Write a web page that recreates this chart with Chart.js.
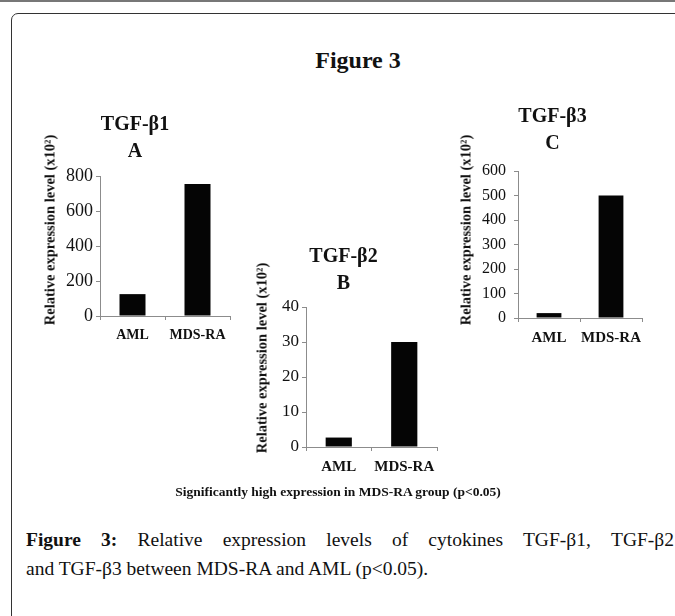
<!DOCTYPE html>
<html>
<head>
<meta charset="utf-8">
<script src="https://cdn.jsdelivr.net/npm/chart.js@4.4.0/dist/chart.umd.min.js"></script>
<style>
  html, body { margin: 0; padding: 0; background: #fff; }
  body { width: 675px; height: 616px; position: relative; overflow: hidden; font-family: "Liberation Serif", serif; color: #111; }
  .topline { position: absolute; left: 0; top: 0; width: 675px; height: 2px; background: #777; }
  .frame { position: absolute; left: 11px; top: 13px; width: 700px; height: 700px; border: 1.5px solid #333; border-radius: 7px; }
  .fig-title { position: absolute; left: 258px; width: 200px; top: 47px; text-align: center; font-weight: bold; font-size: 24px; }
  .chartbox { position: absolute; }
  .ytitle { position: absolute; width: 260px; text-align: center; font-weight: bold; font-size: 14.5px; transform: translate(-50%, -50%) rotate(-90deg); white-space: nowrap; }
  .note { position: absolute; left: 118px; width: 440px; top: 484px; text-align: center; font-weight: bold; font-size: 13.5px; }
  .caption { position: absolute; left: 26px; width: 648px; font-size: 19.5px; }
  .caption b { font-weight: bold; }
  .line1 { top: 529px; text-align: justify; text-align-last: justify; }
  .line2 { top: 558px; }
</style>
</head>
<body>
<div class="topline"></div>
<div class="frame"></div>
<div class="fig-title">Figure 3</div>

<div class="chartbox" style="left:40px; top:111px; width:220px; height:235px;"><canvas id="chartA"></canvas></div>
<div class="chartbox" style="left:250px; top:243px; width:220px; height:234px;"><canvas id="chartB"></canvas></div>
<div class="chartbox" style="left:463px; top:103px; width:200px; height:245px;"><canvas id="chartC"></canvas></div>

<div class="ytitle" style="left:50px; top:230px;">Relative expression level (x10²)</div>
<div class="ytitle" style="left:262px; top:358px;">Relative expression level (x10²)</div>
<div class="ytitle" style="left:466px; top:230px;">Relative expression level (x10²)</div>

<div class="note">Significantly high expression in MDS-RA group (p&lt;0.05)</div>
<div class="caption line1"><b>Figure 3:</b> Relative expression levels of cytokines TGF-β1, TGF-β2</div>
<div class="caption line2">and TGF-β3 between MDS-RA and AML (p&lt;0.05).</div>

<script>
const groups = ['AML', 'MDS-RA'];

const valuesA = [125, 755];
const valuesB = [2.7, 30];
const valuesC = [20, 500];

const titleA = ['TGF-β1', 'A'];
const titleB = ['TGF-β2', 'B'];
const titleC = ['TGF-β3', 'C'];

const axisGray = '#8c8c8c';

function makeChart(id, title, values, yMax, yStep, opts) {
   const ctx = document.getElementById(id).getContext('2d');
   return new Chart(ctx, {
      type: 'bar',
      data: {
         labels: groups,
         datasets: [{
            data: values,
            backgroundColor: '#050505',
            borderWidth: 0,
            barPercentage: 0.4,
            categoryPercentage: 1
         }]
      },
      options: {
         responsive: true,
         maintainAspectRatio: false,
         animation: false,
         layout: { padding: { right: opts.padRight, left: 0, top: 0, bottom: 0 } },
         plugins: {
            legend: { display: false },
            tooltip: { enabled: false },
            title: {
               display: true,
               text: title,
               color: '#111',
               font: { family: 'Liberation Serif', size: 20, weight: 'bold', lineHeight: 1.35 },
               padding: { top: 0, bottom: opts.titleGap }
            }
         },
         scales: {
            x: {
               grid: { display: true, drawOnChartArea: false, drawTicks: true, tickLength: 4, color: axisGray, offset: true },
               border: { display: true, color: axisGray, width: 1 },
               ticks: {
                  color: '#111', padding: 7, autoSkip: false, maxRotation: 0, minRotation: 0,
                  font: { family: 'Liberation Serif', size: opts.xFont, weight: 'bold' }
               },
               afterFit: (scale) => { scale.height = 30; }
            },
            y: {
               min: 0,
               max: yMax,
               grid: { display: true, drawOnChartArea: false, drawTicks: true, tickLength: 4, color: axisGray },
               border: { display: true, color: axisGray, width: 1 },
               ticks: { stepSize: yStep, color: '#111', padding: opts.yPad, font: { family: 'Liberation Serif', size: opts.yFont } },
               afterFit: (scale) => { scale.width = opts.yWidth; }
            }
         }
      }
   });
}

makeChart('chartA', titleA, valuesA, 800, 200, { padRight: 30, titleGap: 11, yWidth: 60, xFont: 14, yFont: 18, yPad: 3 });
makeChart('chartB', titleB, valuesB, 40, 10, { padRight: 33, titleGap: 10, yWidth: 56, xFont: 15, yFont: 17, yPad: 3 });
makeChart('chartC', titleC, valuesC, 600, 100, { padRight: 21, titleGap: 14, yWidth: 55, xFont: 15, yFont: 16, yPad: 8 });
</script>
</body>
</html>
